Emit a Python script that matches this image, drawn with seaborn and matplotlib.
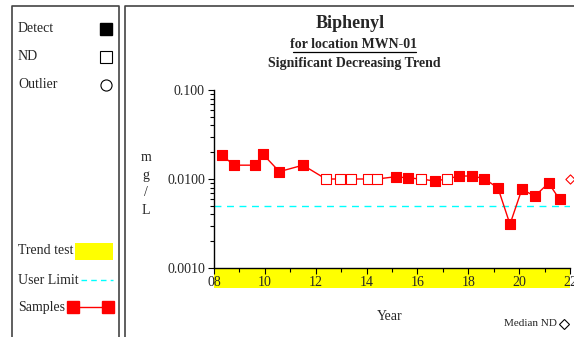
import numpy as np
import pandas as pd
import seaborn as sns
import matplotlib.pyplot as plt
from matplotlib.patches import Rectangle
from matplotlib.lines import Line2D
from matplotlib.ticker import FuncFormatter, MultipleLocator, LogLocator, NullFormatter

years = [8.30, 8.79, 9.63, 9.91, 10.57, 11.50, 12.40, 12.97, 13.40, 14.07, 14.41,
         15.14, 15.62, 16.13, 16.68, 17.16, 17.63, 18.15, 18.63, 19.17, 19.64,
         20.11, 20.61, 21.16, 21.59]
values = [0.0186, 0.0143, 0.0143, 0.0192, 0.0121, 0.0143, 0.0100, 0.0100, 0.0100,
          0.0100, 0.0100, 0.0106, 0.0103, 0.0100, 0.0095, 0.0100, 0.0108, 0.0108,
          0.0101, 0.0079, 0.0031, 0.0077, 0.0064, 0.0090, 0.0059]
detected = [True, True, True, True, True, True, False, False, False, False, False,
            True, True, False, True, False, True, True, True, True, True,
            True, True, True, True]
user_limit = 0.005
median_nd_year = 22.0
median_nd_value = 0.0100
y_ticks = [0.001, 0.01, 0.1]
y_tick_labels = ['0.0010', '0.0100', '0.100']

df = pd.DataFrame({'year': years, 'value': values, 'detect': detected})

sns.set_style('white')
plt.rcParams['font.family'] = ['Liberation Serif', 'DejaVu Serif']

W, H = 574, 337
fig = plt.figure(figsize=(W / 100, H / 100), dpi=100)


def fx(px):
    return px / W


def fy(py):
    return 1 - py / H


ax = fig.add_axes([fx(214), fy(268), fx(570) - fx(214), fy(90) - fy(268)])

sns.lineplot(data=df, x='year', y='value', ax=ax, color='red', lw=1, zorder=3)
sns.scatterplot(data=df[df.detect], x='year', y='value', ax=ax, marker='s', s=55,
                color='red', edgecolor='red', linewidth=0.8, zorder=4)
sns.scatterplot(data=df[~df.detect], x='year', y='value', ax=ax, marker='s', s=45,
                facecolor='white', edgecolor='red', linewidth=0.8, zorder=4)
ax.scatter([median_nd_year], [median_nd_value], marker='D', s=22, facecolor='white',
           edgecolor='red', linewidth=0.8, zorder=5, clip_on=False)
ax.axhline(user_limit, color='cyan', ls=(0, (5, 4)), lw=1, zorder=2)

ax.set_yscale('log')
ax.set_ylim(0.001, 0.1)
ax.set_xlim(8, 22)
ax.set_yticks(y_ticks)
ax.set_yticklabels(y_tick_labels)
ax.yaxis.set_minor_locator(LogLocator(base=10, subs=np.arange(2, 10) * 1.0))
ax.yaxis.set_minor_formatter(NullFormatter())
ax.xaxis.set_major_locator(MultipleLocator(2))
ax.xaxis.set_minor_locator(MultipleLocator(1))
ax.xaxis.set_major_formatter(FuncFormatter(lambda v, p: f'{int(round(v)):02d}'))
ax.tick_params(axis='both', which='both', bottom=True, left=True, top=False,
               right=False, color='black')
ax.tick_params(axis='both', which='major', direction='out', length=4.5, width=0.8,
               labelsize=10, pad=2)
ax.tick_params(axis='both', which='minor', direction='out', length=3, width=0.8)
ax.tick_params(axis='x', which='major', pad=1)
ax.set_xlabel('')
ax.set_ylabel('')
for s in ['top', 'right']:
    ax.spines[s].set_visible(False)
for s in ['left', 'bottom']:
    ax.spines[s].set_color('black')
    ax.spines[s].set_linewidth(1)

# trend test band under the x axis
ax.add_patch(Rectangle((0, -20 / 178), 1, 20 / 178, transform=ax.transAxes,
                       facecolor='yellow', edgecolor='none', clip_on=False, zorder=0))

# titles
fig.text(fx(350), fy(23), 'Biphenyl', ha='center', va='center', fontsize=13,
         fontweight='bold')
fig.text(fx(354), fy(45), 'for location MWN-01', ha='center', va='center',
         fontsize=10, fontweight='bold')
fig.add_artist(Line2D([fx(293), fx(416)], [fy(51.5), fy(51.5)], color='black', lw=0.9))
fig.text(fx(354), fy(63), 'Significant Decreasing Trend', ha='center', va='center',
         fontsize=10, fontweight='bold')
fig.text(fx(146), fy(184), 'm\ng\n/\nL', ha='center', va='center', fontsize=10,
         linespacing=1.45)
fig.text(fx(390), fy(316), 'Year', ha='center', va='center', fontsize=10)
fig.text(fx(557), fy(324), 'Median ND', ha='right', va='center', fontsize=8)
fig.add_artist(Line2D([fx(564)], [fy(324)], marker='D', ms=5, mfc='white',
                      mec='black', mew=0.8, ls='none'))

# panel frames
fig.add_artist(Line2D([fx(12), fx(12), fx(118.5), fx(118.5)],
                      [0, fy(6), fy(6), 0], color='#444444', lw=1.2))
fig.add_artist(Line2D([fx(125), fx(125), 1.0],
                      [0, fy(6), fy(6)], color='#444444', lw=1.2))

# legend panel
fs = 10
fig.text(fx(18), fy(29), 'Detect', va='center', fontsize=fs)
fig.add_artist(Line2D([fx(106)], [fy(29)], marker='s', ms=8.5, mfc='black',
                      mec='black', ls='none'))
fig.text(fx(18), fy(57), 'ND', va='center', fontsize=fs)
fig.add_artist(Line2D([fx(106)], [fy(57)], marker='s', ms=8, mfc='white',
                      mec='black', mew=0.8, ls='none'))
fig.text(fx(18), fy(85), 'Outlier', va='center', fontsize=fs)
fig.add_artist(Line2D([fx(106)], [fy(85)], marker='o', ms=8, mfc='white',
                      mec='black', mew=0.8, ls='none'))
fig.text(fx(18), fy(251), 'Trend test', va='center', fontsize=fs)
fig.add_artist(Rectangle((fx(75), fy(260)), fx(113) - fx(75), fy(243) - fy(260),
                         facecolor='yellow', edgecolor='none'))
fig.text(fx(18), fy(280), 'User Limit', va='center', fontsize=fs)
fig.add_artist(Line2D([fx(81), fx(113)], [fy(280), fy(280)], color='cyan',
                      ls=(0, (4, 3)), lw=1))
fig.text(fx(18), fy(307), 'Samples', va='center', fontsize=fs)
fig.add_artist(Line2D([fx(73), fx(108)], [fy(307), fy(307)], color='red', lw=1,
                      marker='s', ms=9, mfc='red', mec='red'))

plt.savefig('out.png', dpi=100)
